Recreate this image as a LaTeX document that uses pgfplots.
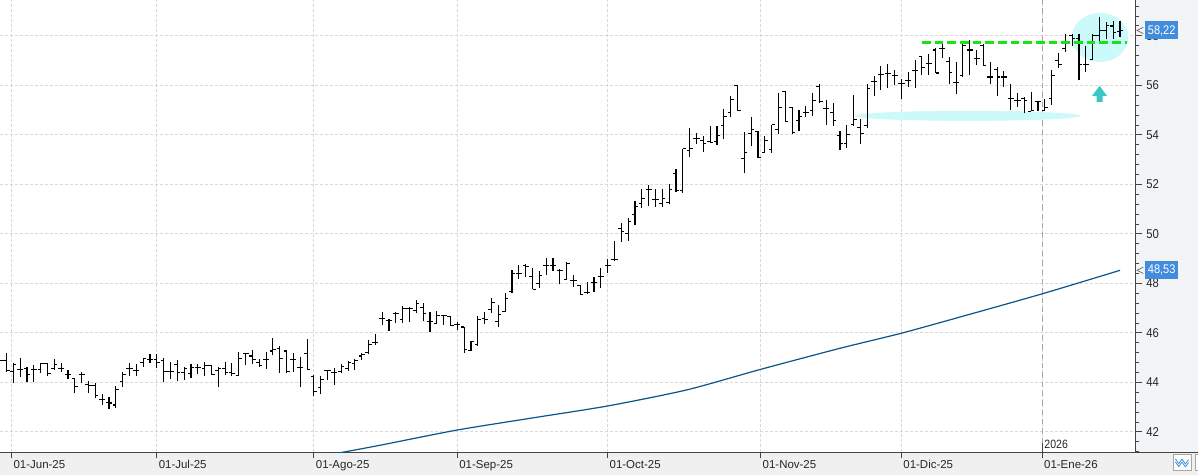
\documentclass[border=0pt]{standalone}
\usepackage{fontspec}
\setmainfont{Liberation Sans}
\newfontfamily\narrowfont[FakeStretch=0.88]{Liberation Sans}
\usepackage{pgfplots}
\pgfplotsset{compat=1.18}
\usepackage{pgfplotstable}
\definecolor{gridc}{RGB}{216,216,216}
\definecolor{axc}{RGB}{68,68,68}
\definecolor{bgc}{RGB}{240,240,240}
\definecolor{bgr}{RGB}{243,244,246}
\definecolor{mac}{RGB}{10,85,140}
\definecolor{boxc}{RGB}{66,140,222}
\definecolor{hlc}{RGB}{204,250,250}
\definecolor{arrc}{RGB}{56,200,200}
\definecolor{grn}{RGB}{20,230,20}

\pgfplotstableread{
x O H L C
0 44.87 45.07 44.67 44.87
1 44.87 45.20 44.43 44.47
2 44.43 44.80 43.96 44.73
3 44.53 45.00 44.23 44.53
4 44.56 44.64 44.03 44.33
5 44.51 44.69 44.03 44.51
6 44.51 44.77 44.40 44.75
7 44.77 44.77 44.27 44.37
8 44.56 44.93 44.51 44.72
9 44.56 44.77 44.43 44.56
10 44.33 44.51 44.13 44.31
11 44.17 44.17 43.56 43.83
12 44.31 44.43 43.96 44.31
13 43.93 44.07 43.56 43.89
14 43.89 43.97 43.36 43.47
15 43.33 43.52 43.09 43.31
16 43.20 43.40 42.93 43.17
17 43.09 43.84 42.96 43.71
18 44.03 44.43 43.83 44.33
19 44.56 44.77 44.27 44.56
20 44.47 44.73 44.27 44.47
21 44.80 45.00 44.64 44.96
22 44.91 45.16 44.80 44.93
23 44.93 45.13 44.60 44.80
24 44.87 45.00 44.00 44.43
25 44.43 44.84 44.13 44.43
26 44.73 44.89 44.07 44.40
27 44.40 44.64 44.11 44.56
28 44.37 44.73 44.20 44.60
29 44.60 44.76 44.33 44.60
30 44.56 44.83 44.27 44.67
31 44.69 44.69 44.31 44.33
32 44.49 44.63 43.80 44.56
33 44.56 44.83 44.29 44.40
34 44.40 44.77 44.27 44.35
35 44.27 45.24 44.27 44.96
36 45.16 45.16 44.69 45.16
37 45.07 45.31 44.76 44.93
38 44.80 44.96 44.64 44.69
39 44.91 45.24 44.56 44.93
40 45.27 45.80 45.09 45.33
41 45.36 45.49 44.40 44.96
42 45.27 45.31 44.40 44.43
43 44.93 45.17 44.43 44.93
44 44.60 45.04 43.80 44.60
45 45.16 45.76 44.50 44.53
46 44.24 44.29 43.44 43.63
47 43.80 44.27 43.53 44.13
48 44.47 44.49 44.09 44.47
49 44.40 44.60 43.90 44.40
50 44.43 44.76 44.37 44.64
51 44.56 44.87 44.47 44.80
52 44.77 44.96 44.50 44.87
53 45.07 45.20 44.90 45.13
54 45.20 45.73 45.13 45.53
55 45.63 45.97 45.53 45.63
56 46.60 46.83 46.32 46.60
57 46.50 46.56 46.07 46.50
58 46.77 46.85 46.40 46.77
59 46.53 47.07 46.40 47.00
60 47.00 47.04 46.43 47.00
61 46.90 47.33 46.80 47.20
62 47.04 47.23 46.47 46.77
63 46.47 46.83 46.03 46.47
64 46.37 46.88 46.37 46.70
65 46.70 46.73 46.33 46.70
66 46.67 46.67 46.29 46.29
67 46.33 46.44 46.13 46.33
68 46.24 46.24 45.20 45.33
69 45.29 45.69 45.29 45.67
70 45.53 46.67 45.47 46.53
71 46.60 46.85 46.37 46.56
72 46.93 47.40 46.80 47.24
73 46.47 47.13 46.24 46.76
74 46.85 47.63 46.85 47.40
75 47.67 48.53 47.60 48.40
76 48.40 48.73 48.19 48.40
77 48.73 48.77 48.27 48.67
78 48.27 48.64 47.76 47.76
79 48.00 48.49 47.83 48.33
80 48.73 49.04 48.36 48.73
81 48.73 49.04 48.51 48.73
82 48.53 48.59 47.96 48.53
83 48.16 48.87 48.16 48.80
84 48.13 48.36 47.87 48.13
85 47.90 47.93 47.56 47.56
86 47.64 48.04 47.56 47.64
87 48.04 48.27 47.64 48.04
88 48.27 48.63 47.83 48.27
89 48.74 49.00 48.44 48.74
90 48.98 49.72 48.90 48.98
91 50.22 50.45 49.68 50.11
92 50.02 50.66 49.72 50.51
93 50.78 51.35 50.35 51.12
94 51.22 51.83 51.05 51.45
95 51.80 51.97 51.13 51.80
96 51.40 51.83 51.09 51.40
97 51.22 51.83 51.09 51.42
98 51.26 52.03 51.19 51.80
99 52.44 52.64 51.70 51.77
100 51.77 53.44 51.67 53.44
101 53.38 54.28 53.10 53.44
102 53.85 54.09 53.63 53.85
103 53.78 53.94 53.31 53.65
104 53.74 54.38 53.67 53.71
105 53.74 54.34 53.58 53.98
106 54.38 55.03 53.85 54.75
107 54.92 55.57 54.72 55.44
108 56.00 56.02 55.00 55.00
109 53.05 54.10 52.45 53.30
110 54.04 54.74 53.56 54.20
111 54.12 54.15 53.05 53.10
112 53.28 53.96 53.28 53.76
113 53.41 54.41 53.28 54.41
114 54.23 55.69 54.05 55.09
115 55.76 55.76 54.54 54.54
116 55.09 55.14 54.03 54.10
117 54.57 55.02 54.16 54.73
118 54.91 55.18 54.73 54.91
119 55.00 55.69 54.78 55.39
120 55.96 56.07 55.28 55.36
121 55.05 55.43 54.41 55.05
122 54.91 55.28 54.37 54.57
123 53.96 54.14 53.39 53.65
124 53.65 54.41 53.48 54.03
125 54.43 55.63 54.34 54.64
126 54.30 54.64 53.62 54.05
127 54.37 56.04 54.27 55.86
128 56.16 56.37 55.56 56.16
129 56.45 56.78 55.82 56.45
130 56.48 56.86 55.90 56.48
131 56.41 56.61 56.03 56.41
132 56.07 56.27 55.46 56.07
133 56.20 56.54 55.93 56.20
134 56.61 57.02 55.90 56.61
135 57.16 57.18 56.41 56.72
136 56.88 57.27 56.41 56.88
137 57.43 57.50 56.50 56.50
138 57.50 57.70 57.09 57.50
139 56.95 57.16 56.04 56.54
140 56.10 56.95 55.66 56.10
141 56.40 57.70 56.34 57.60
142 57.43 57.84 56.41 57.43
143 57.09 57.43 56.82 57.09
144 57.60 57.67 56.79 56.79
145 56.34 56.95 56.04 56.34
146 56.64 56.75 55.59 56.34
147 56.34 56.58 55.93 56.34
148 55.46 56.07 55.00 55.46
149 55.39 55.69 55.14 55.39
150 55.46 55.55 54.87 55.39
151 54.95 55.73 54.95 55.00
152 55.36 55.39 54.98 55.36
153 55.00 55.47 54.97 55.09
154 55.46 56.62 55.22 56.41
155 57.00 57.30 56.70 56.85
156 57.50 58.06 57.36 57.72
157 58.00 58.09 57.60 57.89
158 57.90 58.09 56.20 56.85
159 56.85 57.59 56.56 56.85
160 57.05 58.09 57.05 58.03
161 58.00 58.77 57.69 58.23
162 58.20 58.56 57.89 58.43
163 58.40 58.60 57.89 58.12
164 58.16 58.60 57.96 58.22
}\ohlc

\pgfplotstableread{
x y
48.0 41.08
50.6 41.20
55.8 41.47
67.0 42.08
78.3 42.58
89.0 43.05
100.6 43.70
111.4 44.53
123.0 45.38
132.0 45.99
141.7 46.73
152.6 47.58
164.0 48.53
}\ma

\begin{document}
\begin{tikzpicture}[x=1pt,y=1pt]
\useasboundingbox (0,-17.0) rectangle (898.5,339.2);
\fill[bgr] (851.8,0) rectangle (898.5,339.2);
\fill[bgc] (0,-17.0) rectangle (898.5,0);
\begin{axis}[
  at={(0,0)}, anchor=south west, scale only axis,
  width=851.8pt, height=339.2pt,
  xmin=0.05, xmax=166.3, ymin=41.18, ymax=59.45,
  axis x line*=bottom, axis y line*=right,
  axis line style={axc, line width=0.75pt},
  axis background/.style={fill=white},
  xtick={1.75,23,46,67,89,111.4,132,152.6},
  xticklabels={01-Jun-25,01-Jul-25,01-Ago-25,01-Sep-25,01-Oct-25,01-Nov-25,01-Dic-25,01-Ene-26},
  ytick={42,44,...,58},
  yticklabels={42,44,46,48,50,52,54,56,58},
  minor ytick={41.2,41.6,...,59.3},
  tick align=outside,
  major tick length=4.5pt, minor tick length=2.5pt,
  tick style={axc, line width=0.75pt},
  grid=major,
  major grid style={gridc, dash pattern=on 2.25pt off 1.5pt, line width=0.75pt},
  extra x ticks={152.6}, extra x tick labels={},
  extra x tick style={grid=major, major grid style={black!35, dash pattern=on 4pt off 3pt, line width=0.75pt}},
  xticklabel style={anchor=base west, inner sep=0pt, xshift=1.3pt, yshift=-7.5pt, font=\fontsize{8.6}{9}\selectfont, text=black!85},
  yticklabel style={anchor=west, inner sep=0pt, xshift=3.2pt, font=\narrowfont\fontsize{9.6}{10}\selectfont, text=black!85},
]
\fill[hlc] (axis cs:141.7,54.77) ellipse [x radius=84.4pt, y radius=3.75pt];
\fill[hlc] (axis cs:161.08,57.94) ellipse [x radius=21.2pt, y radius=18.4pt];
\addplot[black, line width=0.85pt, quiver={u=0, v=\thisrow{H}-\thisrow{L}}] table[x=x, y=L]{\ohlc};
\addplot[black, line width=0.8pt, quiver={u=-0.45, v=0}] table[x=x, y=O]{\ohlc};
\addplot[black, line width=0.8pt, quiver={u=0.45, v=0}] table[x=x, y=C]{\ohlc};
\addplot[mac, line width=0.9pt, smooth, tension=0.4] table[x=x, y=y]{\ma};
\addplot[grn, line width=2.25pt, dash pattern=on 6.5pt off 3pt] coordinates {(135,57.73) (165,57.73)};
\coordinate (ar) at (axis cs:161.0,55.98);
\coordinate (p1) at (axis cs:166.3,58.22);
\coordinate (p2) at (axis cs:166.3,48.53);
\coordinate (jan) at (axis cs:152.6,41.18);
\end{axis}
\fill[arrc] (ar) -- ++(5.6pt,-7.5pt) -- ++(-3.35pt,0pt) -- ++(0pt,-4.5pt) -- ++(-4.5pt,0pt) -- ++(0pt,4.5pt) -- ++(-3.35pt,0pt) -- cycle;
\draw[axc, line width=0.75pt] (851.8,0) -- (898.5,0);
\draw[axc, line width=0.75pt] (jan) -- ++(0pt,6.75pt);
\node[anchor=base west, inner sep=0pt, font=\narrowfont\fontsize{9}{10}\selectfont, text=black!85] at ([xshift=1.5pt,yshift=3pt]jan) {2026};
\foreach \p/\t in {p1/{58,22}, p2/{48,53}} {
  \draw[black!60, line width=0.5pt] ([xshift=5.7pt,yshift=2.4pt]\p) -- ([xshift=1pt]\p) -- ([xshift=5.7pt,yshift=-2.4pt]\p);
  \node[fill=boxc, text=white, inner sep=0pt, minimum width=24.5pt, minimum height=13.5pt, anchor=west, font=\narrowfont\fontsize{9.4}{10}\selectfont] at ([xshift=7pt]\p) {\t};
}
% icon boxes bottom right
\filldraw[fill=white, draw=black!35, line width=0.6pt] (879.75,-13.3) rectangle (893.25,-1.3);
\draw[boxc, line width=0.6pt] (881.5,-5.0) -- (884,-8.5) -- (886.5,-5.2) -- (889,-8.7) -- (891.5,-5.5);
\draw[boxc, line width=0.6pt] (881.5,-7.2) -- (884,-10.7) -- (886.5,-7.4) -- (889,-10.9) -- (891.5,-7.7);
\filldraw[fill=white, draw=black!35, line width=0.6pt] (896.8,-13.3) rectangle (905,-1.3);
\end{tikzpicture}
\end{document}
